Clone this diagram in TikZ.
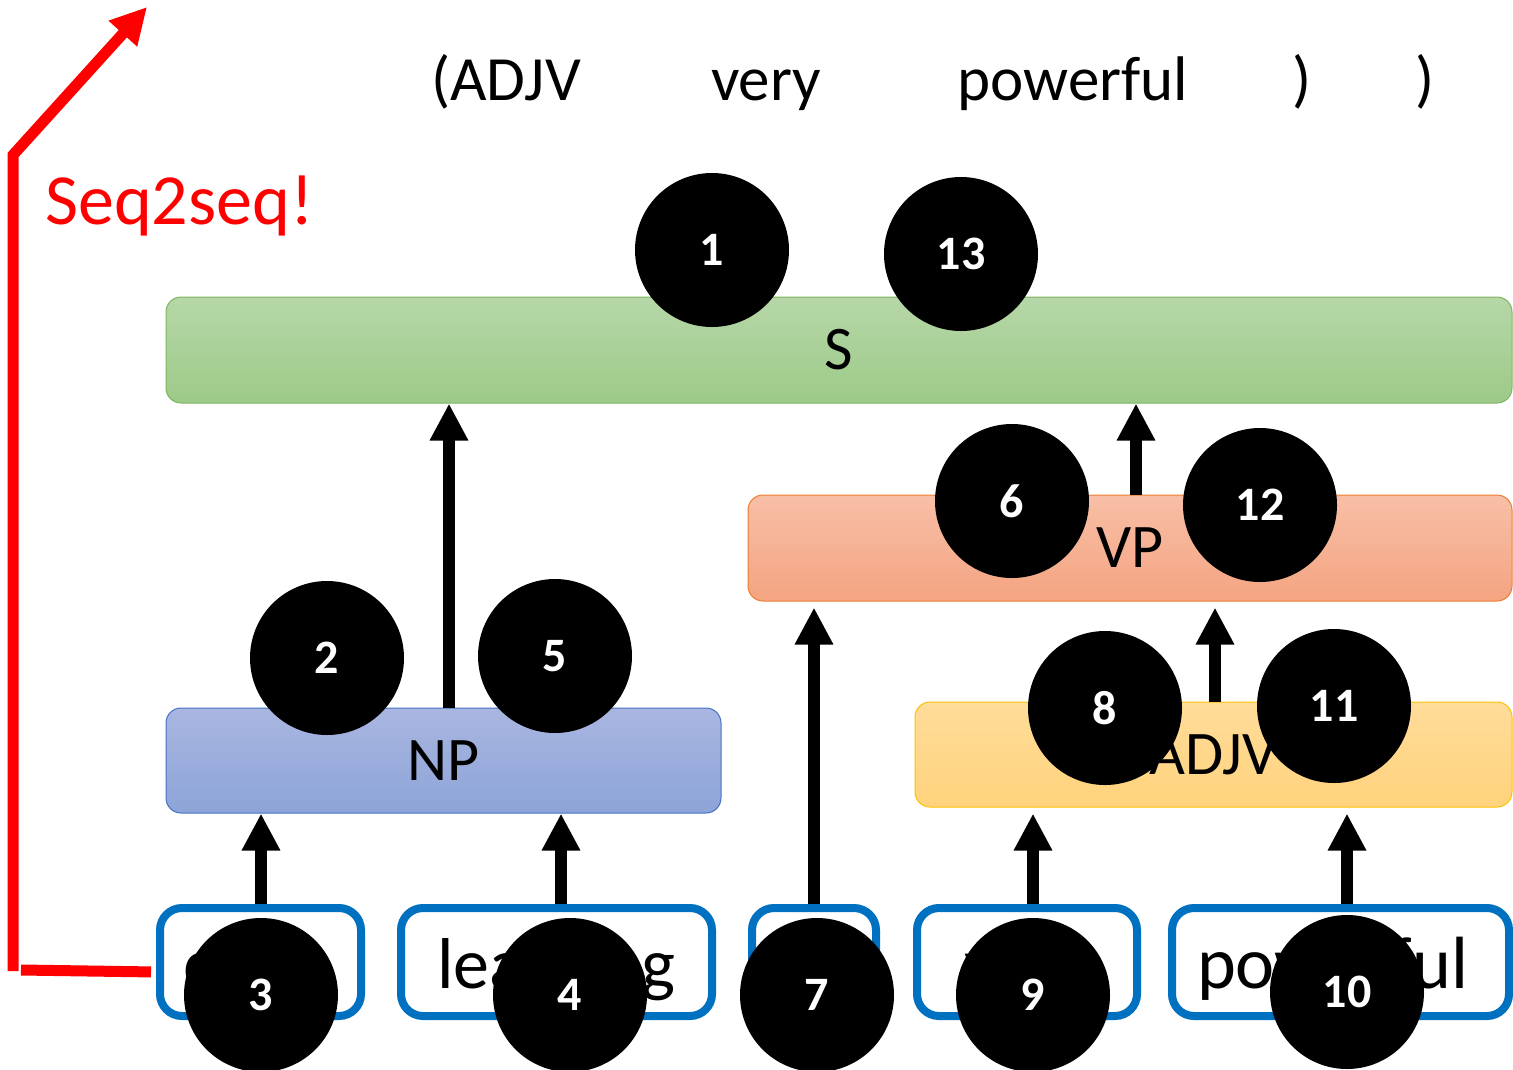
\documentclass[tikz,border=0pt]{standalone}
\usepackage{fontspec}
\setmainfont{Carlito}
\usetikzlibrary{arrows.meta,calc}

\definecolor{sTop}{HTML}{B6D7A8}
\definecolor{sBot}{HTML}{9DCA88}
\definecolor{sLine}{HTML}{7FB560}
\definecolor{vTop}{HTML}{F8BFA7}
\definecolor{vBot}{HTML}{F4A481}
\definecolor{vLine}{HTML}{ED7D31}
\definecolor{nTop}{HTML}{A9B6E0}
\definecolor{nBot}{HTML}{8DA4D8}
\definecolor{nLine}{HTML}{4472C4}
\definecolor{aTop}{HTML}{FFDC9A}
\definecolor{aBot}{HTML}{FFD37C}
\definecolor{aLine}{HTML}{FFC000}
\definecolor{wordBlue}{HTML}{0070C0}
\definecolor{seqRed}{HTML}{FF0000}

\begin{document}
\begin{tikzpicture}[x=1pt,y=-1pt,
  bar/.style={rectangle, rounded corners=15pt, line width=1pt, inner sep=0pt,
    font=\fontsize{62}{62}\selectfont},
  wordbox/.style={rectangle, rounded corners=22pt, draw=wordBlue, line width=8pt,
    fill=white, inner sep=0pt, minimum height=108pt, text height=62pt, text depth=10pt,
    font=\fontsize{72}{72}\selectfont},
  toptext/.style={anchor=base, inner sep=0pt, font=\fontsize{63}{63}\selectfont},
  num/.style={circle, fill=black, minimum size=154pt, inner sep=0pt, text=white,
    font=\bfseries\fontsize{48}{48}\selectfont},
  uparrow/.style={line width=12pt, -{Triangle[width=36pt,length=37pt]}},
  redline/.style={draw=seqRed, line width=11pt},
]
\useasboundingbox (0,0) rectangle (1513,1069);

% output sequence
\node[toptext] (t1) at (506,100) {(ADJV};
\node[toptext] (t2) at (766,100) {very};
\node[toptext] (t3) at (1073,100) {powerful};
\node[toptext] (t4) at (1302,100) {)};
\node[toptext] (t5) at (1425,100) {)};

% constituent bars
\node[bar, top color=sTop, bottom color=sBot, draw=sLine,
  minimum width=1346pt, minimum height=106pt] (S) at (839,350) {S};
\node[bar, top color=vTop, bottom color=vBot, draw=vLine,
  minimum width=764pt, minimum height=106pt] (VP) at (1130,548) {VP};
\node[bar, top color=nTop, bottom color=nBot, draw=nLine,
  minimum width=555pt, minimum height=105pt] (NP) at (443.5,760.5) {NP};
\node[bar, top color=aTop, bottom color=aBot, draw=aLine,
  minimum width=597pt, minimum height=105pt] (ADJV) at (1213.5,754.5) {ADJV};

% input words
\node[wordbox, minimum width=201pt] (w1) at (260.5,962) {\hspace*{-6pt}deep};
\node[wordbox, minimum width=311pt] (w2) at (556.5,962) {learning};
\node[wordbox, minimum width=124pt] (w3) at (814,962) {is};
\node[wordbox, minimum width=220pt] (w4) at (1027,962) {very};
\node[wordbox, minimum width=337pt] (w5) at (1340.5,962)
  {\fontsize{74}{74}\selectfont\hspace*{-16pt}powerful};

% composition arrows
\draw[uparrow] (261,0 |- w1.north) -- (261,0 |- NP.south);
\draw[uparrow] (561,0 |- w2.north) -- (561,0 |- NP.south);
\draw[uparrow, shorten >=6pt] (814,0 |- w3.north) -- (814,0 |- VP.south);
\draw[uparrow, shorten >=6pt] (1033,0 |- w4.north) -- (1033,0 |- ADJV.south);
\draw[uparrow, shorten >=6pt] (1347,0 |- w5.north) -- (1347,0 |- ADJV.south);
\draw[uparrow] (449,0 |- NP.north) -- (449,0 |- S.south);
\draw[uparrow, shorten >=6pt] (1215,0 |- ADJV.north) -- (1215,0 |- VP.south);
\draw[uparrow] (1136,0 |- VP.north) -- (1136,0 |- S.south);

% seq2seq route
\coordinate (rA) at (21,970);
\coordinate (rB) at (13,971);
\coordinate (rC) at (13,155);
\coordinate (rD) at (147,7);
\draw[redline, shorten <=5pt] ($(w1.west)+(0,10)$) -- (rA);
\draw[redline, -{Triangle[width=36pt,length=36pt]}] (rB) -- (rC) -- (rD);
\node[anchor=base west, inner sep=0pt, text=seqRed, font=\fontsize{72}{72}\selectfont]
  (seq) at (45,224) {Seq2seq!};

% order of steps
\node[num] (c1) at (712,250) {1};
\node[num] (c13) at (961,254) {13};
\node[num] (c2) at (327,658) {2};
\node[num] (c5) at (555,656) {5};
\node[num] (c6) at (1012,501) {6};
\node[num] (c12) at (1260,505) {12};
\node[num] (c8) at (1105,708) {8};
\node[num] (c11) at (1334,706) {11};
\node[num] (c3) at (261,995) {3};
\node[num] (c4) at (570,995) {4};
\node[num] (c7) at (817,995) {7};
\node[num] (c9) at (1033,995) {9};
\node[num] (c10) at (1347,992) {10};
\end{tikzpicture}
\end{document}
